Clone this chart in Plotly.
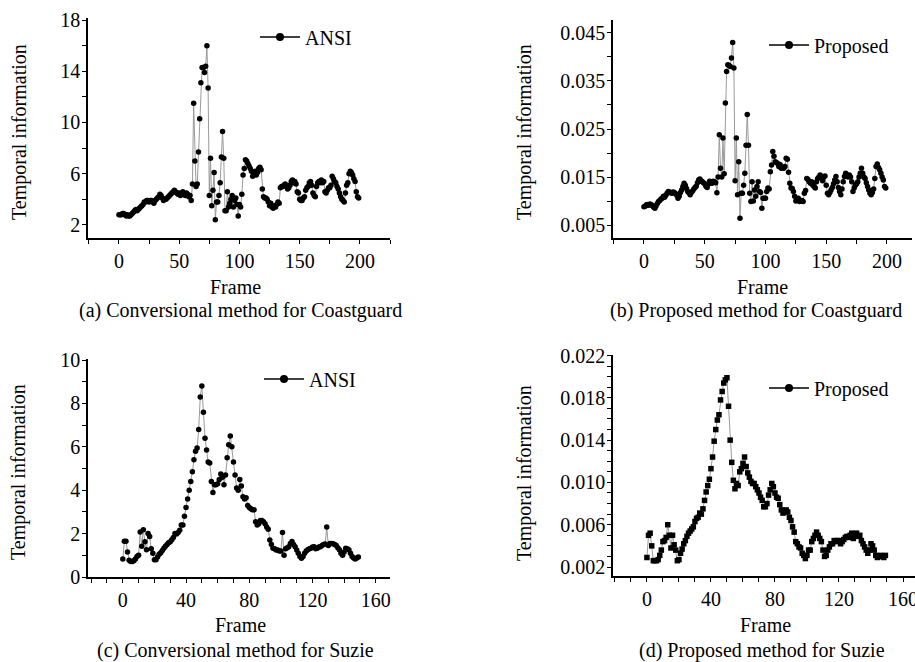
import plotly.graph_objects as go

# ---------------- data ----------------
frames_coast = list(range(200))
frames_suzie = list(range(150))

ansi_coast = [
    2.8, 2.8, 2.8, 2.9, 2.9, 2.8, 2.7, 2.8, 2.7, 2.7,
    2.8, 2.9, 3.0, 3.1, 3.2, 3.1, 3.2, 3.3, 3.4, 3.5,
    3.6, 3.8, 3.8, 3.9, 3.9, 3.8, 3.9, 3.9, 3.8, 3.7,
    3.9, 4.0, 4.1, 4.2, 4.4, 4.3, 4.1, 3.9, 4.0, 4.0,
    4.1, 4.2, 4.3, 4.4, 4.5, 4.6, 4.7, 4.6, 4.5, 4.4,
    4.5, 4.3, 4.4, 4.6, 4.4, 4.3, 4.5, 4.4, 4.2, 4.3,
    3.9, 5.2, 11.5, 7.0, 5.0, 5.2, 7.7, 10.3, 13.1, 14.3,
    14.3, 13.9, 14.4, 16.0, 12.7, 4.3, 7.2, 3.5, 4.7, 6.1,
    2.4, 3.8, 3.8, 4.3, 5.3, 7.3, 9.3, 7.2, 3.1, 3.1,
    4.6, 3.4, 3.7, 4.0, 4.3, 3.4, 3.9, 4.1, 3.6, 2.7,
    3.6, 3.4, 4.4, 5.9, 6.4, 7.1, 7.0, 6.8, 6.6, 6.4,
    6.2, 5.8, 6.0, 6.2, 5.9, 6.1, 6.4, 6.5, 6.3, 4.8,
    4.2, 4.1, 4.1, 4.0, 3.8, 3.5, 3.7, 3.4, 3.3, 3.5,
    3.4, 3.6, 3.8, 3.7, 4.9, 5.0, 5.0, 5.1, 5.2, 5.0,
    4.8, 4.9, 5.1, 5.4, 5.5, 5.3, 5.4, 5.2, 4.6, 4.5,
    4.0, 3.9, 3.9, 4.1, 4.2, 4.7, 4.9, 5.0, 5.3, 5.4,
    5.1, 4.5, 4.3, 4.2, 5.0, 5.3, 5.4, 5.3, 5.5, 5.3,
    5.4, 4.6, 4.5, 4.7, 4.9, 4.9, 5.1, 5.8, 5.6, 5.4,
    5.3, 5.0, 4.8, 4.5, 4.2, 4.0, 3.9, 3.8, 4.5, 5.1,
    5.3, 6.0, 6.2, 6.1, 5.9, 5.6, 5.4, 4.6, 4.2, 4.1,
]

prop_coast = [
    0.0088, 0.0089, 0.0092, 0.0093, 0.0091, 0.0094, 0.0092, 0.0090, 0.0087, 0.0085,
    0.0090, 0.0095, 0.0099, 0.0101, 0.0104, 0.0106, 0.0110, 0.0108, 0.0112, 0.0116,
    0.0120, 0.0119, 0.0117, 0.0116, 0.0119, 0.0118, 0.0115, 0.0112, 0.0106, 0.0110,
    0.0118, 0.0123, 0.0130, 0.0137, 0.0133, 0.0126, 0.0120, 0.0117, 0.0113, 0.0118,
    0.0121, 0.0125, 0.0128, 0.0131, 0.0138, 0.0144, 0.0146, 0.0142, 0.0140, 0.0138,
    0.0136, 0.0131, 0.0128, 0.0135, 0.0141, 0.0140, 0.0137, 0.0141, 0.0140, 0.0138,
    0.0117, 0.0150, 0.0238, 0.0168, 0.0150, 0.0231, 0.0157, 0.0304, 0.0370, 0.0384,
    0.0382, 0.0380, 0.0398, 0.0430, 0.0377, 0.0142, 0.0231, 0.0113, 0.0182, 0.0064,
    0.0116, 0.0116, 0.0133, 0.0158, 0.0216, 0.0280, 0.0216, 0.0116, 0.0099, 0.0140,
    0.0100, 0.0123, 0.0110, 0.0130, 0.0140, 0.0120, 0.0118, 0.0085, 0.0106, 0.0106,
    0.0106, 0.0120, 0.0127, 0.0125, 0.0161, 0.0175, 0.0203, 0.0193, 0.0182, 0.0180,
    0.0178, 0.0172, 0.0176, 0.0168, 0.0170, 0.0168, 0.0172, 0.0189, 0.0187, 0.0160,
    0.0137, 0.0127, 0.0126, 0.0120, 0.0110, 0.0100, 0.0103, 0.0106, 0.0099, 0.0100,
    0.0101, 0.0099, 0.0116, 0.0122, 0.0147, 0.0145, 0.0140, 0.0137, 0.0140, 0.0133,
    0.0130, 0.0127, 0.0140, 0.0147, 0.0150, 0.0154, 0.0150, 0.0142, 0.0150, 0.0152,
    0.0133, 0.0116, 0.0113, 0.0118, 0.0123, 0.0128, 0.0136, 0.0144, 0.0151, 0.0140,
    0.0128, 0.0120, 0.0113, 0.0125, 0.0140, 0.0151, 0.0158, 0.0154, 0.0150, 0.0154,
    0.0150, 0.0140, 0.0120, 0.0127, 0.0133, 0.0136, 0.0140, 0.0150, 0.0158, 0.0168,
    0.0158, 0.0150, 0.0147, 0.0138, 0.0130, 0.0123, 0.0116, 0.0113, 0.0118, 0.0125,
    0.0147, 0.0172, 0.0177, 0.0170, 0.0165, 0.0158, 0.0150, 0.0144, 0.0130, 0.0127,
]

ansi_suzie = [
    0.83, 1.65, 1.65, 1.15, 0.77, 0.72, 0.72, 0.75, 0.83, 0.95,
    1.00, 2.07, 1.42, 2.18, 1.62, 1.26, 2.00, 1.87, 1.30, 1.10,
    0.80, 0.80, 0.92, 1.05, 1.12, 1.22, 1.33, 1.42, 1.50, 1.58,
    1.62, 1.72, 1.82, 2.00, 1.98, 2.05, 2.15, 2.40, 2.40, 2.80,
    3.20, 3.60, 4.00, 4.40, 4.85, 5.40, 5.80, 5.95, 6.80, 8.30,
    8.80, 7.60, 6.40, 5.85, 5.30, 5.25, 4.40, 3.90, 4.25, 4.25,
    4.30, 4.50, 4.75, 4.60, 4.25, 4.70, 5.50, 6.10, 6.50, 6.00,
    5.30, 4.70, 4.10, 4.00, 4.50, 4.20, 3.70, 3.60, 3.65, 3.30,
    3.20, 3.15, 3.10, 3.10, 2.55, 2.40, 2.45, 2.60, 2.60, 2.55,
    2.45, 2.30, 2.20, 1.70, 1.50, 1.33, 1.30, 1.25, 1.25, 1.20,
    1.20, 2.05, 1.00, 1.30, 1.35, 1.40, 1.55, 1.64, 1.50, 1.40,
    1.25, 1.10, 0.95, 0.87, 0.95, 1.10, 1.20, 1.26, 1.30, 1.33,
    1.38, 1.40, 1.30, 1.33, 1.38, 1.40, 1.45, 1.50, 1.52, 2.30,
    1.45, 1.55, 1.55, 1.53, 1.50, 1.45, 1.35, 1.26, 1.10, 1.00,
    1.15, 1.33, 1.30, 1.26, 1.10, 0.95, 0.88, 0.83, 0.88, 0.92,
]

prop_suzie = [
    0.0029, 0.0050, 0.0052, 0.0040, 0.0026, 0.0026, 0.0026, 0.0027, 0.0031, 0.0036,
    0.0044, 0.0045, 0.0048, 0.0060, 0.0050, 0.0038, 0.0050, 0.0041, 0.0036, 0.0026,
    0.0027, 0.0033, 0.0037, 0.0042, 0.0045, 0.0049, 0.0052, 0.0054, 0.0056, 0.0058,
    0.0063, 0.0066, 0.0067, 0.0071, 0.0070, 0.0075, 0.0083, 0.0091, 0.0097, 0.0103,
    0.0113, 0.0124, 0.0139, 0.0150, 0.0159, 0.0164, 0.0178, 0.0186, 0.0194, 0.0197,
    0.0199, 0.0172, 0.0140, 0.0119, 0.0102, 0.0094, 0.0099, 0.0097, 0.0110, 0.0113,
    0.0118, 0.0124, 0.0115, 0.0109, 0.0105, 0.0101, 0.0099, 0.0099, 0.0096, 0.0093,
    0.0090, 0.0086, 0.0083, 0.0077, 0.0077, 0.0080, 0.0088, 0.0093, 0.0099, 0.0096,
    0.0090, 0.0086, 0.0085, 0.0079, 0.0074, 0.0071, 0.0072, 0.0074, 0.0072, 0.0067,
    0.0064, 0.0058, 0.0053, 0.0044, 0.0042, 0.0039, 0.0038, 0.0033, 0.0031, 0.0028,
    0.0031, 0.0036, 0.0036, 0.0044, 0.0047, 0.0050, 0.0053, 0.0050, 0.0047, 0.0044,
    0.0036, 0.0030, 0.0031, 0.0036, 0.0039, 0.0042, 0.0042, 0.0045, 0.0044, 0.0045,
    0.0045, 0.0042, 0.0044, 0.0046, 0.0048, 0.0049, 0.0048, 0.0050, 0.0052, 0.0047,
    0.0050, 0.0052, 0.0049, 0.0050, 0.0045, 0.0042, 0.0039, 0.0036, 0.0033, 0.0036,
    0.0042, 0.0040, 0.0036, 0.0031, 0.0029, 0.0030, 0.0031, 0.0030, 0.0029, 0.0031,
]

xticks_coast = [0, 50, 100, 150, 200]
xticks_suzie = [0, 40, 80, 120, 160]
yticks_a = [2, 6, 10, 14, 18]
yticks_b = [0.005, 0.015, 0.025, 0.035, 0.045]
yticks_c = [0, 2, 4, 6, 8, 10]
yticks_d = [0.002, 0.006, 0.010, 0.014, 0.018, 0.022]
ytext_b = ["0.005", "0.015", "0.025", "0.035", "0.045"]
ytext_d = ["0.002", "0.006", "0.010", "0.014", "0.018", "0.022"]

captions = ["(a) Conversional method for Coastguard",
            "(b) Proposed method for Coastguard",
            "(c) Conversional method for Suzie",
            "(d) Proposed method for Suzie"]
legend_names = ["ANSI", "Proposed", "ANSI", "Proposed"]

# ---------------- figure ----------------
W, H = 915, 662
FONT = "Liberation Serif"
FS = 20


def px(x):
    return x / W


def py(y):
    return 1 - y / H


fig = go.Figure()

panels = [
    dict(x=frames_coast, y=ansi_coast, sym="circle", xa="x", ya="y", leg="legend"),
    dict(x=frames_coast, y=prop_coast, sym="circle", xa="x2", ya="y2", leg="legend2"),
    dict(x=frames_suzie, y=ansi_suzie, sym="circle", xa="x3", ya="y3", leg="legend3"),
    dict(x=frames_suzie, y=prop_suzie, sym="square", xa="x4", ya="y4", leg="legend4"),
]

for i, p in enumerate(panels):
    fig.add_trace(go.Scatter(
        x=p["x"], y=p["y"], xaxis=p["xa"], yaxis=p["ya"],
        mode="lines+markers", showlegend=False,
        line=dict(color="#9a9a9a", width=1),
        marker=dict(color="black", size=5.5, symbol=p["sym"]),
    ))
    fig.add_trace(go.Scatter(
        x=[None], y=[None], xaxis=p["xa"], yaxis=p["ya"],
        mode="lines+markers", name=legend_names[i], legend=p["leg"],
        line=dict(color="black", width=1.5),
        marker=dict(color="black", size=8, symbol="circle"),
    ))

axis_common = dict(
    showline=True, linecolor="black", linewidth=1.5, mirror=False,
    showgrid=False, zeroline=False, ticks="outside", ticklen=4,
    tickcolor="black", tickwidth=1, automargin=False,
    ticklabeloverflow="allow",
    tickfont=dict(family=FONT, size=FS, color="black"),
)
minor_common = dict(ticks="outside", ticklen=4, tickcolor="black")

dom = {
    "a": dict(x=[px(88), px(390)], y=[py(238), py(18)]),
    "b": dict(x=[px(613), px(912)], y=[py(238), py(20)]),
    "c": dict(x=[px(88), px(390)], y=[py(577), py(359)]),
    "d": dict(x=[px(613), 1.0], y=[py(576), py(355)]),
}

fig.update_layout(
    xaxis=dict(axis_common, domain=dom["a"]["x"], anchor="y", range=[-25.7, 225],
               tickvals=xticks_coast, minor=dict(minor_common, dtick=25, tick0=0),
               ticklabelstandoff=0),
    yaxis=dict(axis_common, domain=dom["a"]["y"], anchor="x", range=[0.98, 18.16],
               tickvals=yticks_a, minor=dict(minor_common, dtick=2, tick0=0),
               ticklabelstandoff=-2),
    xaxis2=dict(axis_common, domain=dom["b"]["x"], anchor="y2", range=[-25.5, 220.6],
                tickvals=xticks_coast, minor=dict(minor_common, dtick=25, tick0=0),
                ticklabelstandoff=0),
    yaxis2=dict(axis_common, domain=dom["b"]["y"], anchor="x2", range=[0.0023, 0.0477],
                tickvals=yticks_b, ticktext=ytext_b,
                minor=dict(minor_common, dtick=0.005, tick0=0),
                ticklabelstandoff=-2),
    xaxis3=dict(axis_common, domain=dom["c"]["x"], anchor="y3", range=[-22, 169],
                tickvals=xticks_suzie, minor=dict(minor_common, dtick=10, tick0=0),
                ticklabelstandoff=0),
    yaxis3=dict(axis_common, domain=dom["c"]["y"], anchor="x3", range=[0, 10.05],
                tickvals=yticks_c, minor=dict(minor_common, dtick=1, tick0=0),
                ticklabelstandoff=-2),
    xaxis4=dict(axis_common, domain=dom["d"]["x"], anchor="y4", range=[-21.2, 167.5],
                tickvals=xticks_suzie, minor=dict(minor_common, dtick=10, tick0=0),
                ticklabelstandoff=0),
    yaxis4=dict(axis_common, domain=dom["d"]["y"], anchor="x4", range=[0.00115, 0.02205],
                tickvals=yticks_d, ticktext=ytext_d,
                minor=dict(minor_common, dtick=0.001, tick0=0),
                ticklabelstandoff=-2),
)

leg_common = dict(font=dict(family=FONT, size=FS, color="black"), bgcolor="rgba(0,0,0,0)",
                  xanchor="left", yanchor="middle", itemwidth=40, borderwidth=0)
fig.update_layout(
    legend=dict(leg_common, x=px(255), y=py(37)),
    legend2=dict(leg_common, x=px(764), y=py(45)),
    legend3=dict(leg_common, x=px(259), y=py(379)),
    legend4=dict(leg_common, x=px(764), y=py(388)),
)

ann = []


def text(x, y, s, angle=0):
    ann.append(dict(x=px(x), y=py(y), xref="paper", yref="paper", text=s, showarrow=False,
                    xanchor="center", yanchor="middle", textangle=angle,
                    font=dict(family=FONT, size=FS, color="black")))


# axis titles
text(236, 287, "Frame")
text(762, 287, "Frame")
text(240, 625, "Frame")
text(765, 625, "Frame")
text(19, 132, "Temporal information", -90)
text(524, 132, "Temporal information", -90)
text(19, 472, "Temporal information", -90)
text(524, 473, "Temporal information", -90)
# captions
text(240, 310, captions[0])
text(756, 310, captions[1])
text(236, 650, captions[2])
text(762, 650, captions[3])

fig.update_layout(
    annotations=ann,
    width=W, height=H,
    margin=dict(l=0, r=0, t=0, b=0),
    paper_bgcolor="white", plot_bgcolor="white",
    font=dict(family=FONT, size=FS, color="black"),
)

fig.write_html("out.html",
               config={"displayModeBar": False},
               post_script="document.body.style.margin='0';document.body.style.overflow='hidden';")
